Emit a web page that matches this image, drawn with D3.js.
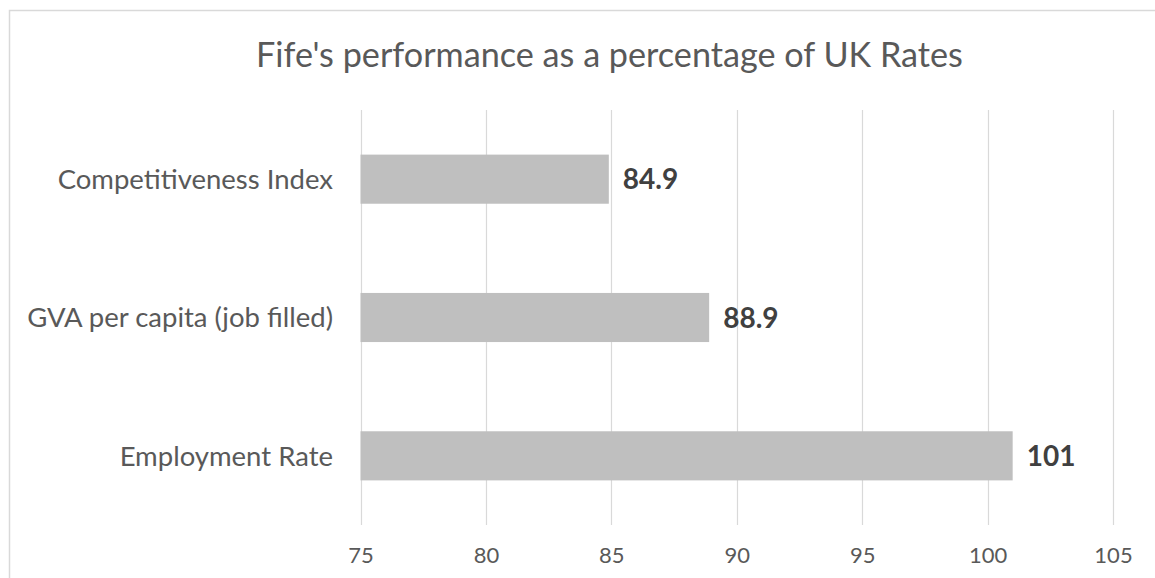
<!DOCTYPE html>
<html>
<head>
<meta charset="utf-8">
<script src="https://cdn.jsdelivr.net/npm/d3@7"></script>
<style>
  html, body { margin: 0; padding: 0; background: #ffffff; }
  svg { display: block; }
</style>
</head>
<body>
<svg id="chart" width="1155" height="578"></svg>
<script>
const title = "Fife's performance as a percentage of UK Rates";
const categories = ["Competitiveness Index", "GVA per capita (job filled)", "Employment Rate"];
const values = [84.9, 88.9, 101];
const valueLabels = ["84.9", "88.9", "101"];
const tickValues = [75, 80, 85, 90, 95, 100, 105];

const svg = d3.select("#chart");
const FONT = "Lato, 'Open Sans', sans-serif";

// chart border (extends past the right and bottom of the window)
svg.append("rect")
  .attr("x", 9.5).attr("y", 10.5)
  .attr("width", 1160).attr("height", 600)
  .attr("fill", "#fff").attr("stroke", "#d9d9d9").attr("stroke-width", 1.5);

const x = d3.scaleLinear().domain([75, 105]).range([360.5, 1113]);
const y = d3.scaleBand().domain(categories).range([110, 525])
  .paddingInner(0.645).paddingOuter(0.3225);

// gridlines
svg.append("g").selectAll("line").data(tickValues).join("line")
  .attr("x1", d => Math.round(x(d)) + 0.5).attr("x2", d => Math.round(x(d)) + 0.5)
  .attr("y1", 110).attr("y2", 525)
  .attr("stroke", "#d9d9d9").attr("stroke-width", 1.2);

// x axis labels via d3 axis
const xAxis = d3.axisBottom(x).tickValues(tickValues).tickSize(0).tickPadding(0).tickFormat(d3.format("d"));
const gx = svg.append("g").attr("transform", "translate(0,545)").call(xAxis);
gx.select(".domain").remove();
gx.selectAll("text")
  .attr("font-family", FONT).attr("font-size", 22).attr("fill", "#595959").attr("dy", "0.84em");

// bars
svg.append("g").selectAll("rect").data(values).join("rect")
  .attr("x", x(75))
  .attr("y", (d, i) => y(categories[i]))
  .attr("width", d => x(d) - x(75))
  .attr("height", y.bandwidth())
  .attr("fill", "#bfbfbf");

// value labels
svg.append("g").selectAll("text").data(values).join("text")
  .attr("x", d => x(d) + 14)
  .attr("y", (d, i) => y(categories[i]) + y.bandwidth() / 2)
  .attr("dy", "0.36em")
  .attr("font-family", FONT).attr("font-weight", "bold").attr("font-size", 28)
  .attr("fill", "#404040")
  .text((d, i) => valueLabels[i]);

// category labels via d3 axis
const yAxis = d3.axisLeft(y).tickSize(0).tickPadding(0);
const gy = svg.append("g").attr("transform", "translate(333,0)").call(yAxis);
gy.select(".domain").remove();
gy.selectAll("text")
  .attr("font-family", FONT).attr("font-size", 22).attr("fill", "#595959").attr("dy", "0.36em");

// fit category font size to reference width of longest label (~306px)
(function fit() {
  const texts = gy.selectAll("text").nodes();
  let maxW = 0; texts.forEach(t => maxW = Math.max(maxW, t.getComputedTextLength()));
  const fs = 22 * 306 / maxW;
  gy.selectAll("text").attr("font-size", fs);
})();

// title
const t = svg.append("text")
  .attr("x", 609.5).attr("y", 67)
  .attr("text-anchor", "middle")
  .attr("font-family", FONT).attr("font-weight", 400).attr("font-size", 32)
  .attr("fill", "#595959")
  .text(title);
const tw = t.node().getComputedTextLength();
t.attr("font-size", 32 * 707 / tw);
</script>
</body>
</html>
